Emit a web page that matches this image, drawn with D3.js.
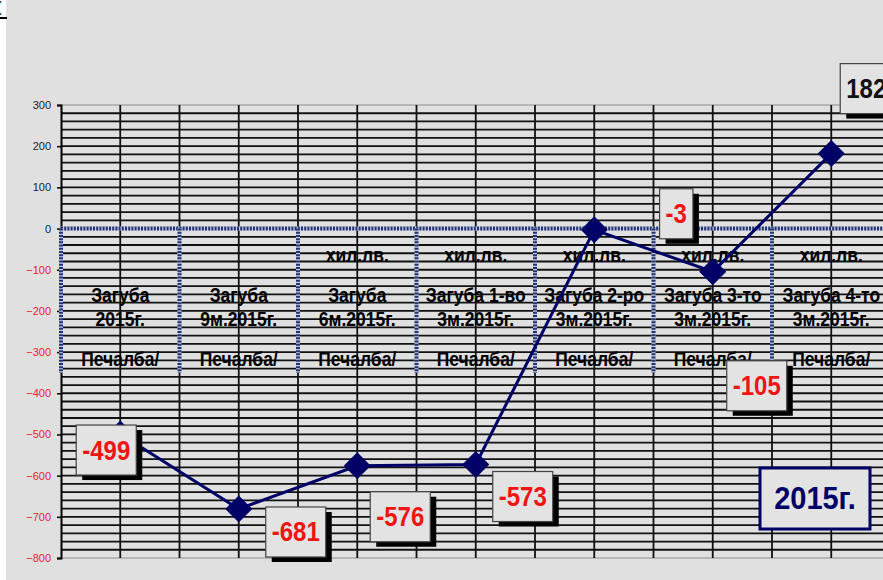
<!DOCTYPE html>
<html>
<head>
<meta charset="utf-8">
<script src="https://cdn.jsdelivr.net/npm/d3@7"></script>
<style>
  body { margin: 0; background: #fff; }
  svg { display: block; font-family: "Liberation Sans", Arial, sans-serif; }
</style>
</head>
<body>
<svg id="chart" width="883" height="580"></svg>
<script>
// data
var categories = ["c1", "c2", "c3", "c4", "c5", "c6", "c7"];
var catLines = [
  ["", "Загуба", "2015г.", "Печалба/"],
  ["", "Загуба", "9м.2015г.", "Печалба/"],
  ["хил.лв.", "Загуба", "6м.2015г.", "Печалба/"],
  ["хил.лв.", "Загуба 1-во", "3м.2015г.", "Печалба/"],
  ["хил.лв.", "Загуба 2-ро", "3м.2015г.", "Печалба/"],
  ["хил.лв.", "Загуба 3-то", "3м.2015г.", "Печалба/"],
  ["хил.лв.", "Загуба 4-то", "3м.2015г.", "Печалба/"]
];
var values = [-499, -681, -576, -573, -3, -105, 182];
var yTicks = [300, 200, 100, 0, -100, -200, -300, -400, -500, -600, -700, -800];
var badge = "2015г.";

// layout: where each value label sits relative to its point
var labelOffsets = [[-14, 16], [57, 23], [43, 51], [47, 32], [82, -16], [44, 114], [35, -65]];
var lineBaselines = [262, 302, 326, 366];

(function () {
var svg = d3.select("#chart");
var bg = "#e0e0e0", navy = "#000066";

svg.append("rect").attr("x", 6).attr("y", 0).attr("width", 877).attr("height", 580).attr("fill", bg);
svg.append("text").attr("x", -3).attr("y", 12).attr("font-size", 14).text("(");
svg.append("line").attr("x1", 0).attr("x2", 7).attr("y1", 18).attr("y2", 18).attr("stroke", "#000").attr("stroke-width", 2);

var pLeft = 61, pTop = 105, pBottom = 558;
var x = d3.scaleBand().domain(categories).range([pLeft, 890.5]).padding(0);
var y = d3.scaleLinear().domain([-800, 300]).range([pBottom, pTop]);
var bw = x.bandwidth();

var g = svg.append("g");

// horizontal grid every 20
var hg = d3.range(-780, 300, 20);
g.selectAll(".hg").data(hg).join("line")
  .attr("x1", pLeft).attr("x2", 883)
  .attr("y1", d => y(d)).attr("y2", d => y(d))
  .attr("stroke", "#111").attr("stroke-width", 1.8);
g.selectAll(".hb").data([300, -800]).join("line")
  .attr("x1", pLeft).attr("x2", 883)
  .attr("y1", d => y(d)).attr("y2", d => y(d))
  .attr("stroke", "#aaa").attr("stroke-width", 1.5);

// vertical grid at band edges and centres
var vg = [];
categories.forEach(function (c) { vg.push(x(c)); vg.push(x(c) + bw / 2); });
g.selectAll(".vg").data(vg.slice(1)).join("line")
  .attr("x1", d => d).attr("x2", d => d)
  .attr("y1", pTop).attr("y2", pBottom)
  .attr("stroke", "#111").attr("stroke-width", 1.8);

// y axis
var yAxis = g.append("g").attr("transform", "translate(" + pLeft + ",0)")
  .call(d3.axisLeft(y).tickValues(yTicks).tickSize(4).tickPadding(6));
yAxis.select(".domain").attr("stroke", "#000").attr("stroke-width", 2);
yAxis.selectAll(".tick line").attr("stroke", "#000").attr("stroke-width", 1.5);
yAxis.selectAll(".tick text")
  .attr("font-size", 11).attr("font-family", "Liberation Sans, Arial, sans-serif")
  .attr("fill", d => d < 0 ? "#e8262a" : "#222");

// category axis at zero: dotted navy line with long ticks
var zeroY = y(0);
var tickX = categories.map(c => x(c));
var axG = g.append("g");
axG.append("line").attr("x1", pLeft).attr("x2", 883).attr("y1", zeroY).attr("y2", zeroY)
  .attr("stroke", "#c4cbe0").attr("stroke-width", 4);
axG.append("line").attr("x1", pLeft).attr("x2", 883).attr("y1", zeroY).attr("y2", zeroY)
  .attr("stroke", "#24346e").attr("stroke-width", 4).attr("stroke-dasharray", "2 1.2");
axG.selectAll(".tb").data(tickX).join("line")
  .attr("x1", d => d).attr("x2", d => d).attr("y1", zeroY).attr("y2", 373)
  .attr("stroke", "#c4cbe0").attr("stroke-width", 4);
axG.selectAll(".tt").data(tickX).join("line")
  .attr("x1", d => d).attr("x2", d => d).attr("y1", zeroY).attr("y2", 373)
  .attr("stroke", "#24346e").attr("stroke-width", 4).attr("stroke-dasharray", "2 1.2");

// category labels (slightly tall lettering, like the original)
categories.forEach(function (c, i) {
  catLines[i].forEach(function (t, j) {
    if (!t) return;
    g.append("text")
      .attr("transform", "translate(" + (x(c) + bw / 2) + "," + lineBaselines[j] + ") scale(1,1.13)")
      .attr("text-anchor", "middle").attr("font-size", 17.5).attr("font-weight", "bold")
      .attr("fill", "#000").text(t);
  });
});

// series
var pts = values.map((v, i) => [x(categories[i]) + bw / 2, y(v)]);
g.append("path").datum(pts)
  .attr("d", d3.line())
  .attr("fill", "none").attr("stroke", navy).attr("stroke-width", 3);
var r = 13.5;
g.selectAll(".mk").data(pts).join("path")
  .attr("d", d => "M" + d[0] + "," + (d[1] - r) + "L" + (d[0] + r) + "," + d[1] +
    "L" + d[0] + "," + (d[1] + r) + "L" + (d[0] - r) + "," + d[1] + "Z")
  .attr("fill", navy);

// value labels
values.forEach(function (v, i) {
  var cx = pts[i][0] + labelOffsets[i][0], cy = pts[i][1] + labelOffsets[i][1];
  var lg = g.append("g");
  var sh = lg.append("rect"), box = lg.append("rect");
  var t = lg.append("text").attr("transform", "translate(" + cx + "," + (cy + 9.5) + ") scale(1,1.12)")
    .attr("text-anchor", "middle").attr("font-size", 24).attr("font-weight", "bold")
    .attr("fill", v < 0 ? "#f01414" : "#111").text(v);
  var w = t.node().getComputedTextLength() + 12, h = 50;
  sh.attr("x", cx - w / 2 + 6).attr("y", cy - h / 2 + 5).attr("width", w).attr("height", h).attr("fill", "#000");
  box.attr("x", cx - w / 2).attr("y", cy - h / 2).attr("width", w).attr("height", h)
    .attr("fill", "#e3e3e3").attr("stroke", "#444").attr("stroke-width", 1.2);
});

// year badge
var bx = 815, by = 498;
g.append("rect").attr("x", bx - 55).attr("y", by - 30).attr("width", 110).attr("height", 61)
  .attr("fill", "#e3e3e3").attr("stroke", navy).attr("stroke-width", 3);
g.append("text").attr("transform", "translate(" + bx + "," + (by + 11) + ") scale(1,1.05)")
  .attr("text-anchor", "middle")
  .attr("font-size", 29).attr("font-weight", "bold").attr("fill", navy).text(badge);
})();
</script>
</body>
</html>
